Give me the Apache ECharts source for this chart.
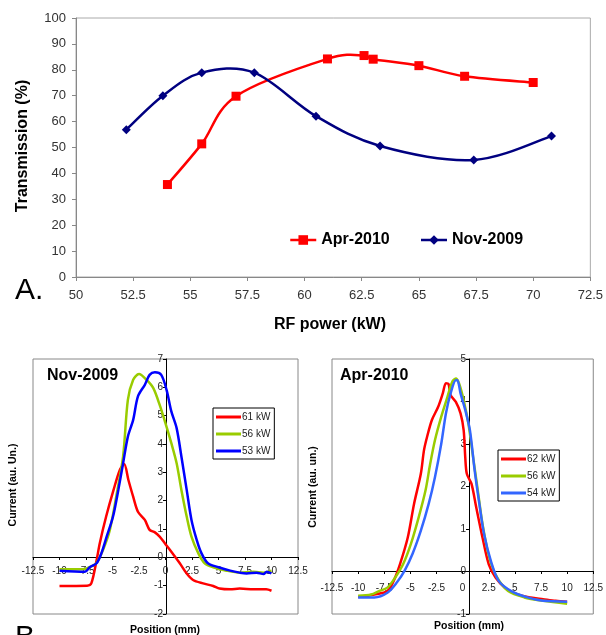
<!DOCTYPE html>
<html>
<head>
<meta charset="utf-8">
<script src="https://cdn.jsdelivr.net/npm/echarts@6/dist/echarts.min.js"></script>
<style>html,body{margin:0;padding:0;background:#fff}#main{width:606px;height:635px}</style>
</head>
<body>
<div id="main"></div>
<script>
// A. transmission vs RF power
var rfApr = [54, 55.5, 57, 61, 62.6, 63, 65, 67, 70];
var trApr = [35.7, 51.4, 69.8, 84.2, 85.5, 84.1, 81.6, 77.5, 75.1];
var rfNov = [52.2, 53.8, 55.5, 57.8, 60.5, 63.3, 67.4, 70.8];
var trNov = [56.9, 70.0, 78.9, 78.9, 62.1, 50.6, 45.2, 54.4];

// B. profiles, Nov-2009
var posN61 = [-10, -7.4, -7, -6.5, -6.2, -5.6, -4.9, -4.3, -3.9, -3.5, -3.05, -2.6, -1.95, -1.5, -1, -0.55, -0.05, 0.55, 1.35, 2, 2.6, 3.55, 4.5, 5.1, 6.1, 7, 8.3, 9.5, 10];
var curN61 = [-1.01, -1.0, -0.92, -0.1, 0.5, 1.44, 2.38, 3.09, 3.29, 2.73, 2.14, 1.61, 1.32, 0.97, 0.88, 0.73, 0.49, 0.2, -0.21, -0.57, -0.8, -0.92, -1.01, -1.1, -1.13, -1.1, -1.13, -1.13, -1.18];
var posN56 = [-10, -7.8, -7.15, -6.5, -5.9, -5.25, -4.65, -4, -3.55, -3.05, -2.5, -1.8, -1.15, -0.55, 0, 0.55, 1.05, 1.5, 2, 2.45, 3.1, 3.7, 4.5, 5.75, 7, 8.3, 9.25, 10];
var curN56 = [-0.42, -0.42, -0.35, -0.19, 0.26, 0.97, 2.14, 3.56, 5.56, 6.27, 6.47, 6.27, 5.97, 5.38, 4.73, 4.03, 3.32, 2.38, 1.44, 0.73, 0.14, -0.21, -0.35, -0.47, -0.54, -0.51, -0.54, -0.47];
var posN53 = [-10, -7.6, -7.15, -6.5, -6.05, -5.55, -4.95, -4.45, -4, -3.55, -3.05, -2.6, -1.95, -1.5, -1, -0.4, 0.1, 0.55, 1.05, 1.5, 2, 2.45, 2.95, 3.4, 4, 5, 6.1, 7, 7.65, 8.6, 9.25, 9.55, 10];
var curN53 = [-0.47, -0.51, -0.35, -0.21, 0.14, 0.73, 1.44, 2.38, 3.32, 4.26, 4.85, 5.68, 6.09, 6.44, 6.53, 6.44, 5.91, 5.15, 4.56, 3.56, 2.38, 1.32, 0.61, 0.14, -0.21, -0.35, -0.47, -0.54, -0.57, -0.54, -0.59, -0.51, -0.57];

// B. profiles, Apr-2010
var posA62 = [-10, -8.45, -7.2, -6.6, -6, -5.25, -4.65, -4, -3.7, -3.4, -2.95, -2.35, -1.9, -1.6, -1.35, -1.15, -0.65, -0.2, 0.1, 0.25, 0.4, 0.85, 1.3, 1.9, 2.5, 3.15, 4.05, 5.25, 6.5, 7.7, 8.9, 10];
var curA62 = [-0.6, -0.54, -0.46, -0.22, 0.17, 0.8, 1.59, 2.3, 2.85, 3.17, 3.56, 3.87, 4.19, 4.43, 4.41, 4.15, 3.99, 3.72, 3.32, 2.69, 2.3, 2.06, 1.51, 0.8, 0.17, -0.14, -0.38, -0.54, -0.61, -0.65, -0.69, -0.71];
var posA56 = [-10, -8.75, -8, -7.2, -6.45, -5.7, -4.95, -4.2, -3.55, -3.1, -2.65, -2.05, -1.45, -1, -0.65, -0.35, 0.1, 0.55, 1, 1.45, 1.9, 2.55, 3.3, 4.35, 5.9, 7.7, 10];
var curA56 = [-0.57, -0.54, -0.46, -0.38, -0.14, 0.17, 0.65, 1.28, 1.91, 2.54, 3.09, 3.64, 4.11, 4.46, 4.54, 4.43, 4.03, 3.48, 2.69, 1.91, 1.12, 0.33, -0.14, -0.46, -0.61, -0.69, -0.76];
var posA54 = [-10, -8.45, -7.2, -6.3, -5.55, -4.8, -4, -3.25, -2.65, -2.05, -1.6, -1.15, -0.65, -0.5, -0.2, 0.25, 0.7, 1.15, 1.6, 2.05, 2.7, 3.45, 4.65, 6.2, 7.7, 10];
var curA54 = [-0.61, -0.61, -0.5, -0.26, 0.02, 0.41, 0.96, 1.59, 2.22, 3.0, 3.72, 4.19, 4.5, 4.5, 4.19, 3.8, 3.32, 2.38, 1.59, 0.88, 0.25, -0.22, -0.46, -0.61, -0.69, -0.71];

function zip(xs, ys) {
    return xs.map(function (x, i) { return [x, ys[i]]; });
}

var font = "'Liberation Sans', Arial, sans-serif";
var myChart = echarts.init(document.getElementById('main'));

// excel style smoothed line, drawn through the grid's own coords
function excelCurve(name, xs, ys, color) {
    return {
        name: name, type: 'custom', xAxisIndex: 0, yAxisIndex: 0, z: 1,
        data: zip(xs, ys),
        renderItem: function (params, api) {
            if (params.dataIndex !== 0) return null;
            var pts = xs.map(function (x, i) { return api.coord([x, ys[i]]); });
            var n = pts.length;
            var d = 'M' + pts[0][0] + ',' + pts[0][1];
            for (var i = 0; i < n - 1; i++) {
                var p0 = pts[Math.max(i - 1, 0)], p1 = pts[i], p2 = pts[i + 1], p3 = pts[Math.min(i + 2, n - 1)];
                var c1x = p1[0] + (p2[0] - p0[0]) / 6, c1y = p1[1] + (p2[1] - p0[1]) / 6;
                var c2x = p2[0] - (p3[0] - p1[0]) / 6, c2y = p2[1] - (p3[1] - p1[1]) / 6;
                d += ' C' + c1x + ',' + c1y + ' ' + c2x + ',' + c2y + ' ' + p2[0] + ',' + p2[1];
            }
            return { type: 'path', shape: { pathData: d }, style: { stroke: color, lineWidth: 2.5, fill: 'none' } };
        }
    };
}

function profileLine(name, xs, ys, color, idx) {
    return {
        name: name, type: 'line', xAxisIndex: idx, yAxisIndex: idx,
        data: zip(xs, ys), symbol: 'none', smooth: 0.3,
        lineStyle: { color: color, width: 2.5 }, itemStyle: { color: color }
    };
}

function profileX(idx, off, margin) {
    return {
        type: 'value', gridIndex: idx, min: -12.5, max: 12.5, interval: 2.5, offset: off,
        axisLine: { onZero: false, lineStyle: { color: '#000', width: 1 } },
        axisTick: { length: 3, lineStyle: { color: '#000' } },
        splitLine: { show: false },
        axisLabel: { fontSize: 10, color: '#222', fontFamily: font, margin: margin }
    };
}
function profileY(idx, min, max, off) {
    return {
        type: 'value', gridIndex: idx, min: min, max: max, interval: 1, offset: off,
        axisLine: { show: true, onZero: false, lineStyle: { color: '#000', width: 1 } },
        axisTick: { show: true, length: 3, lineStyle: { color: '#000' } },
        splitLine: { show: false },
        axisLabel: { fontSize: 10, color: '#222', fontFamily: font, margin: 3 }
    };
}

var option = {
    animation: false,
    backgroundColor: '#fff',
    textStyle: { fontFamily: font },
    grid: [
        { left: 76, top: 18, width: 516, height: 259, show: true, borderColor: '#aaa', borderWidth: 1 },
        { left: 33, top: 359, width: 265, height: 255, show: true, borderColor: '#888', borderWidth: 1 },
        { left: 332, top: 359, width: 273, height: 255, show: true, borderColor: '#888', borderWidth: 1 }
    ],
    xAxis: [
        {
            type: 'value', gridIndex: 0, min: 50, max: 72.5, interval: 2.5,
            axisLine: { lineStyle: { color: '#888' } },
            axisTick: { length: 4, lineStyle: { color: '#888' } },
            splitLine: { show: false },
            axisLabel: { fontSize: 13, color: '#333', fontFamily: font, margin: 12 }
        },
        profileX(1, -57, 9),
        profileX(2, -43, 12)
    ],
    yAxis: [
        {
            type: 'value', gridIndex: 0, min: 0, max: 100, interval: 10,
            axisLine: { show: true, lineStyle: { color: '#888' } },
            axisTick: { show: true, length: 4, lineStyle: { color: '#888' } },
            splitLine: { show: false },
            axisLabel: { fontSize: 13, color: '#333', fontFamily: font, margin: 10 }
        },
        profileY(1, -2, 7, -133),
        profileY(2, -1, 5, -137)
    ],
    legend: [
        {
            data: ['Apr-2010', 'Nov-2009'], left: 284, top: 227,
            itemWidth: 26, itemHeight: 12, itemGap: 30,
            lineStyle: { opacity: 1, width: 2.5 },
            textStyle: { fontSize: 16, fontWeight: 'bold', color: '#000', fontFamily: font }
        },
        {
            data: ['61 kW', '56 kW', '53 kW'], orient: 'vertical', left: 213, top: 408,
            icon: 'rect', itemWidth: 25, itemHeight: 3, itemGap: 7, padding: [4, 4, 3, 3],
            borderColor: '#000', borderWidth: 1,
            textStyle: { fontSize: 10, color: '#222', fontFamily: font, padding: [0, 0, 0, -4] }
        },
        {
            data: ['62 kW', '56 kW', '54 kW'], orient: 'vertical', left: 498, top: 450,
            icon: 'rect', itemWidth: 25, itemHeight: 3, itemGap: 7, padding: [4, 4, 3, 3],
            borderColor: '#000', borderWidth: 1,
            textStyle: { fontSize: 10, color: '#222', fontFamily: font, padding: [0, 0, 0, -4] }
        }
    ],
    series: [
        excelCurve('Apr-2010 curve', rfApr, trApr, '#ff0000'),
        excelCurve('Nov-2009 curve', rfNov, trNov, '#000080'),
        {
            name: 'Apr-2010', type: 'line', xAxisIndex: 0, yAxisIndex: 0, z: 3,
            data: zip(rfApr, trApr),
            symbol: 'rect', symbolSize: 9,
            lineStyle: { color: '#ff0000', width: 2.5, opacity: 0 }, itemStyle: { color: '#ff0000' }
        },
        {
            name: 'Nov-2009', type: 'line', xAxisIndex: 0, yAxisIndex: 0, z: 3,
            data: zip(rfNov, trNov),
            symbol: 'diamond', symbolSize: 9,
            lineStyle: { color: '#000080', width: 2.5, opacity: 0 }, itemStyle: { color: '#000080' }
        },
        profileLine('61 kW', posN61, curN61, '#ff0000', 1),
        profileLine('56 kW', posN56, curN56, '#99cc00', 1),
        profileLine('53 kW', posN53, curN53, '#0000ff', 1),
        profileLine('62 kW', posA62, curA62, '#ff0000', 2),
        profileLine('56 kW', posA56, curA56, '#99cc00', 2),
        profileLine('54 kW', posA54, curA54, '#3366ff', 2)
    ],
    graphic: [
        { type: 'text', left: 15, top: 276, style: { text: 'A.', font: '30px ' + font, fill: '#000' } },
        { type: 'text', left: 15, top: 623, style: { text: 'B.', font: '30px ' + font, fill: '#000' } },
        { type: 'text', x: 330, y: 325, style: { text: 'RF power (kW)', font: 'bold 16px ' + font, fill: '#000', align: 'center', verticalAlign: 'middle' } },
        { type: 'text', x: 23, y: 146, rotation: Math.PI / 2, style: { text: 'Transmission (%)', font: 'bold 16px ' + font, fill: '#000', align: 'center', verticalAlign: 'middle' } },
        { type: 'text', x: 47, y: 376, style: { text: 'Nov-2009', font: 'bold 16px ' + font, fill: '#000', verticalAlign: 'middle' } },
        { type: 'text', x: 340, y: 376, style: { text: 'Apr-2010', font: 'bold 16px ' + font, fill: '#000', verticalAlign: 'middle' } },
        { type: 'text', x: 165, y: 630, style: { text: 'Position (mm)', font: 'bold 10.5px ' + font, fill: '#000', align: 'center', verticalAlign: 'middle' } },
        { type: 'text', x: 469, y: 626, style: { text: 'Position (mm)', font: 'bold 10.5px ' + font, fill: '#000', align: 'center', verticalAlign: 'middle' } },
        { type: 'text', x: 13, y: 485, rotation: Math.PI / 2, style: { text: 'Current (au. Un.)', font: 'bold 10.5px ' + font, fill: '#000', align: 'center', verticalAlign: 'middle' } },
        { type: 'text', x: 313, y: 487, rotation: Math.PI / 2, style: { text: 'Current (au. un.)', font: 'bold 10.5px ' + font, fill: '#000', align: 'center', verticalAlign: 'middle' } }
    ]
};
myChart.setOption(option);
</script>
</body>
</html>
